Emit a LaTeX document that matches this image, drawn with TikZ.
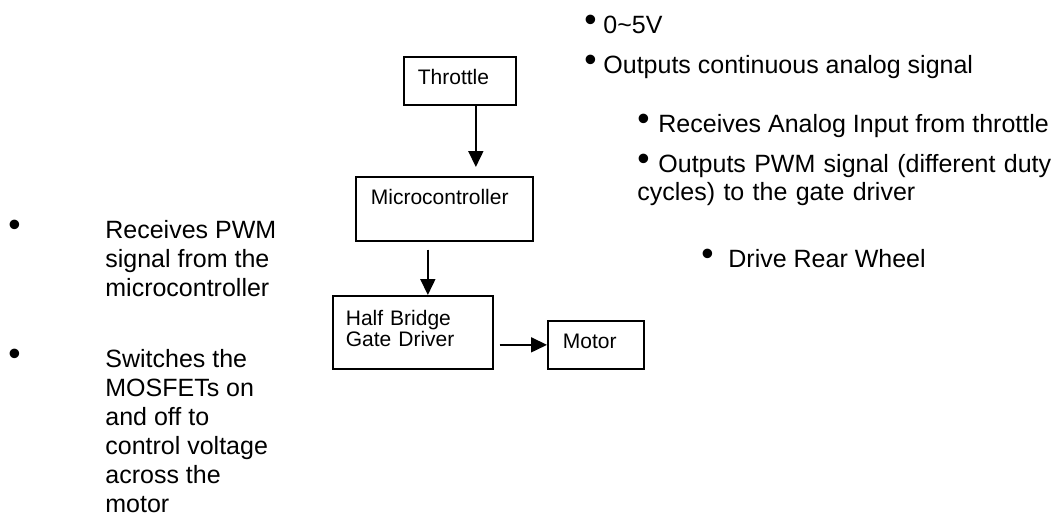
\documentclass[tikz,border=0pt]{standalone}
\usepackage{fontspec}
\setmainfont{Liberation Sans}
\usepackage{graphicx}
\usetikzlibrary{arrows.meta}
\newcommand{\boxfont}{\fontsize{10.5}{10.5}\selectfont}
\newcommand{\notefont}{\fontsize{12.5}{14}\selectfont}
\newcommand{\sidefont}{\fontsize{12.5}{14.5}\selectfont}
\newcommand{\blt}[1]{\makebox[#1][l]{\raisebox{0.05em}{\scalebox{1.4}{\textbullet}}}}
\tikzset{
blk/.style={draw=black, line width=0.85pt, inner ysep=0pt, align=left, anchor=north west, font=\boxfont},
note/.style={inner sep=0pt, anchor=base west, align=left, font=\notefont},
side/.style={inner sep=0pt, anchor=base west, font=\sidefont},
arrow/.style={line width=0.85pt, -{Triangle[length=8pt,width=7.5pt]}},
}

\begin{document}
\begin{tikzpicture}[x=0.5pt,y=-0.5pt]
\useasboundingbox (0,0) rectangle (1057,516);

\node[blk, text width=42pt, inner xsep=7pt, text height=14pt, text depth=10pt] (throttle) at (403,56) {Throttle};
\node[blk, text width=73.5pt, inner xsep=7.5pt, text height=14pt, text depth=18pt] (micro) at (355,176) {Microcontroller};
\node[blk, text width=67pt, inner xsep=6.5pt, text height=15pt, text depth=21.5pt] (half_bridge) at (332,295) {Half Bridge\\Gate Driver};
\node[blk, text width=33pt, inner xsep=7.5pt, text height=14pt, text depth=10pt] (motor) at (547,320) {Motor};

\node[note] (throttle_range) at (584,33) {\blt{9.5pt}0\textasciitilde 5V};
\node[note] (throttle_out) at (584,73) {\blt{9.5pt}Outputs continuous analog signal};
\node[note] (micro_in) at (637,132) {\blt{10.5pt}Receives Analog Input from throttle};
\node[note, text width=230pt] (micro_out) at (637,172) {\blt{10.5pt}Outputs PWM signal (different duty\\cycles) to the gate driver};
\node[note] (motor_out) at (701,267) {\blt{13.5pt}Drive Rear Wheel};

\node[side] (driver_in) at (8,238) {\blt{48.5pt}\begin{tabular}[t]{@{}l@{}}Receives PWM\\signal from the\\microcontroller\end{tabular}};
\node[side] (driver_out) at (8,367) {\blt{48.5pt}\begin{tabular}[t]{@{}l@{}}Switches the\\MOSFETs on\\and off to\\control voltage\\across the\\motor\end{tabular}};

\draw [arrow, shorten >=4.5pt] ([xshift=8pt]throttle.south) -- ([xshift=8pt]throttle.south |- micro.north);
\draw [arrow] ([xshift=-8.25pt,yshift=-4pt]micro.south) -- ([xshift=-8.25pt]micro.south |- half_bridge.north);
\draw [arrow] ([xshift=3pt]half_bridge.east |- motor.west) -- (motor.west);
\end{tikzpicture}
\end{document}
